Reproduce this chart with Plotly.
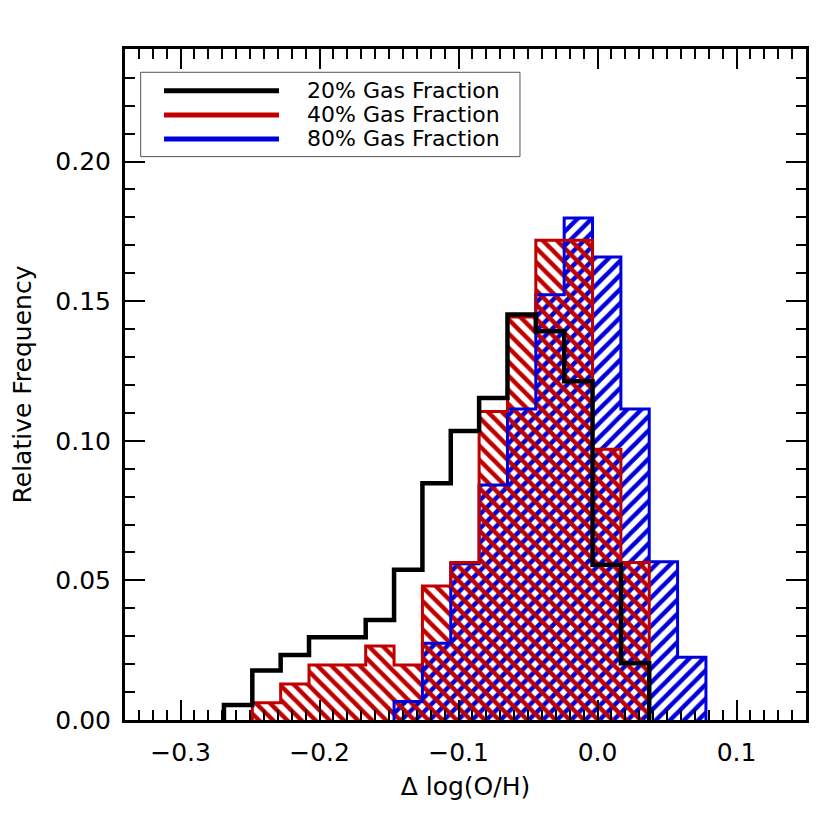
import numpy as np
import plotly.graph_objects as go

# Общие бины гистограмм (левая граница первого бина и ширина)
bin_lo = -0.2688
bin_w = 0.0204

# Относительные частоты по бинам (17 бинов)
freq_20 = [0.0054, 0.0177, 0.0233, 0.0296, 0.0296, 0.0358, 0.0538, 0.0848,
           0.1035, 0.1153, 0.1452, 0.1392, 0.1213, 0.0556, 0.0203, 0.0, 0.0]
freq_40 = [0.0, 0.0062, 0.0129, 0.0197, 0.0197, 0.0265, 0.0197, 0.0480,
           0.0564, 0.1105, 0.1443, 0.1718, 0.1718, 0.0970, 0.0564, 0.0, 0.0]
freq_80 = [0.0, 0.0, 0.0, 0.0, 0.0, 0.0, 0.0066, 0.0275,
           0.0560, 0.0842, 0.1114, 0.1523, 0.1798, 0.1658, 0.1114, 0.0567, 0.0225]

labels = ["20% Gas Fraction", "40% Gas Fraction", "80% Gas Fraction"]
colors = ["#000000", "#C00000", "#0000DD"]

FONT = "DejaVu Sans"

edges = bin_lo + bin_w * np.arange(len(freq_20) + 1)
centers = edges[:-1] + bin_w / 2


def step_outline(freq):
    # ступенчатый контур гистограммы по ненулевым бинам
    nz = [i for i, v in enumerate(freq) if v > 0]
    i0, i1 = nz[0], nz[-1]
    xs = [edges[i0]] + list(edges[i0:i1 + 2])
    ys = [0] + list(freq[i0:i1 + 1]) + [0]
    return xs, ys


def hatched(freq, shape, color):
    return go.Bar(
        x=centers, y=freq, width=bin_w,
        marker=dict(color="rgba(0,0,0,0)", line=dict(width=0),
                    pattern=dict(shape=shape, fgcolor=color, bgcolor="rgba(0,0,0,0)",
                                 fgopacity=1, size=10, solidity=0.45, fillmode="overlay")),
        showlegend=False, hoverinfo="skip"
    )


fig = go.Figure()

# 80% - синяя штриховка "/"
fig.add_trace(hatched(freq_80, "/", colors[2]))
xs, ys = step_outline(freq_80)
fig.add_trace(go.Scatter(x=xs, y=ys, mode="lines", line=dict(color=colors[2], width=3, shape="hv"),
                         showlegend=False))

# 40% - красная штриховка "\"
fig.add_trace(hatched(freq_40, "\\", colors[1]))
xs, ys = step_outline(freq_40)
fig.add_trace(go.Scatter(x=xs, y=ys, mode="lines", line=dict(color=colors[1], width=3, shape="hv"),
                         showlegend=False))

# 20% - только чёрный контур
xs, ys = step_outline(freq_20)
fig.add_trace(go.Scatter(x=xs, y=ys, mode="lines", line=dict(color=colors[0], width=4.5, shape="hv"),
                         showlegend=False))

# Легенда вручную (длинные линии как в оригинале)
shapes = [dict(type="rect", xref="paper", yref="paper", x0=0.023, x1=0.580, y0=0.8396, y1=0.9653,
               line=dict(color="#555555", width=1), fillcolor="white", layer="above")]
annotations = []
rows_y = [0.9379, 0.9017, 0.8660]
for lab, col, yy in zip(labels, colors, rows_y):
    shapes.append(dict(type="line", xref="paper", yref="paper", x0=0.0573, x1=0.2261, y0=yy, y1=yy,
                       line=dict(color=col, width=5), layer="above"))
    annotations.append(dict(xref="paper", yref="paper", x=0.2643, y=yy, text=lab, showarrow=False,
                            xanchor="left", yanchor="middle", font=dict(family=FONT, size=22, color="black")))

fig.update_layout(
    width=830, height=830,
    margin=dict(l=117, r=32, t=41, b=118),
    paper_bgcolor="white", plot_bgcolor="white",
    barmode="overlay", bargap=0,
    font=dict(family=FONT, size=25, color="black"),
    shapes=shapes, annotations=annotations,
    showlegend=False,
)

fig.update_xaxes(
    range=[-0.34, 0.15], dtick=0.1, tick0=0, tickformat=".1f",
    showgrid=False, zeroline=False,
    showline=True, linecolor="black", linewidth=3, mirror="ticks",
    ticks="inside", ticklen=20, tickwidth=2, tickcolor="black",
    minor=dict(ticks="inside", ticklen=10, tickwidth=2, dtick=0.01, tickcolor="black", showgrid=False),
    ticklabelstandoff=8,
    title=dict(text="Δ log(O/H)", standoff=12, font=dict(family=FONT, size=25)),
)
fig.update_yaxes(
    range=[0, 0.2403], dtick=0.05, tick0=0, tickformat=".2f",
    showgrid=False, zeroline=False,
    showline=True, linecolor="black", linewidth=3, mirror="ticks",
    ticks="inside", ticklen=20, tickwidth=2, tickcolor="black",
    minor=dict(ticks="inside", ticklen=10, tickwidth=2, dtick=0.01, tickcolor="black", showgrid=False),
    ticklabelstandoff=6,
    title=dict(text="Relative Frequency", standoff=18, font=dict(family=FONT, size=25)),
)

fig.write_html("out.html")
